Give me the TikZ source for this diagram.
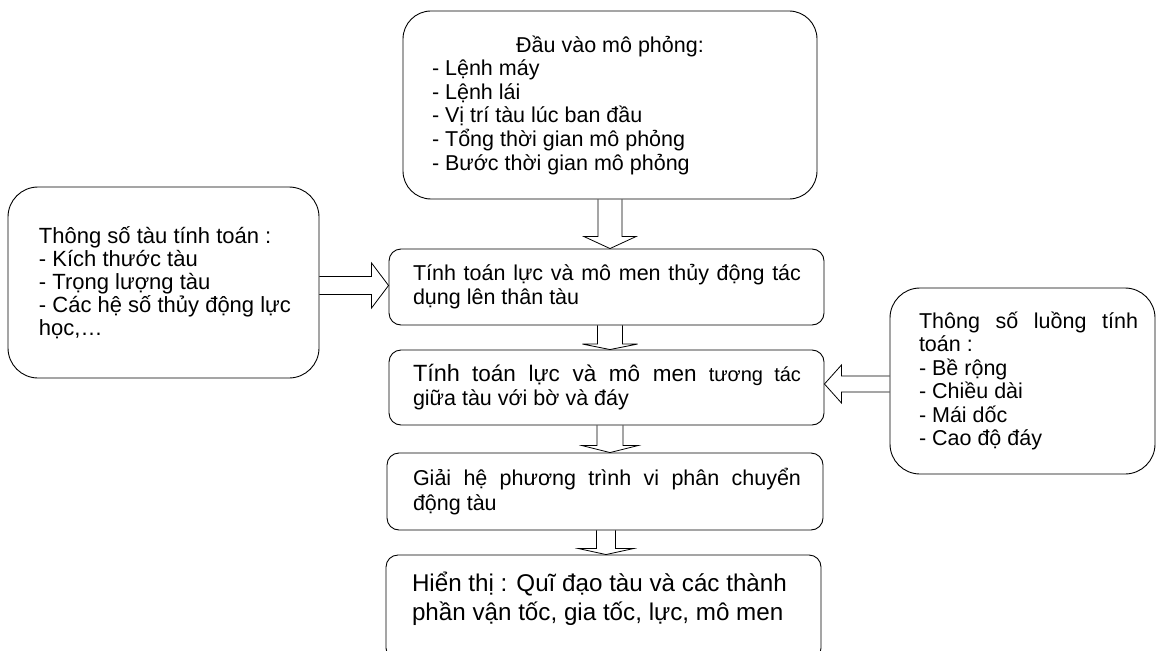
\documentclass[tikz,border=0pt]{standalone}
\usepackage{fontspec}
\setmainfont{Liberation Sans}
\usetikzlibrary{calc}
\tikzset{
  box/.style={draw=black, line width=0.9pt, rounded corners=#1, inner sep=0pt, fill=white},
  blk/.style={draw=black, line width=0.8pt, line join=miter},
}
% #1 box width, #2 left offset, #3 text width, #4 content
\newcommand\boxtext[4]{\makebox[#1pt][l]{\hspace*{#2pt}\parbox{#3pt}{\raggedright #4}}}
\newcommand\fs[2]{\fontsize{#1pt}{#2pt}\selectfont}
% down block arrow: from, to, x coordinate, shaft half, head half, head length
\newcommand\blockdown[6]{%
  \draw[blk] ($(#1.south -| #3)+(-#4,0)$) -- ($(#2.north -| #3)+(-#4,-#6)$) --
    ($(#2.north -| #3)+(-#5,-#6)$) -- (#2.north -| #3) --
    ($(#2.north -| #3)+(#5,-#6)$) -- ($(#2.north -| #3)+(#4,-#6)$) --
    ($(#1.south -| #3)+(#4,0)$);}
% right-pointing block arrow from #1.east to #2.west at y of #3
\newcommand\blockright[6]{%
  \draw[blk] ($(#1.east |- #3)+(0,-#4)$) -- ($(#2.west |- #3)+(-#6,-#4)$) --
    ($(#2.west |- #3)+(-#6,-#5)$) -- (#2.west |- #3) --
    ($(#2.west |- #3)+(-#6,#5)$) -- ($(#2.west |- #3)+(-#6,#4)$) --
    ($(#1.east |- #3)+(0,#4)$);}
% left-pointing block arrow from #1.west to #2.east at y of #3
\newcommand\blockleft[6]{%
  \draw[blk] ($(#1.west |- #3)+(0,-#4)$) -- ($(#2.east |- #3)+(#6,-#4)$) --
    ($(#2.east |- #3)+(#6,-#5)$) -- (#2.east |- #3) --
    ($(#2.east |- #3)+(#6,#5)$) -- ($(#2.east |- #3)+(#6,#4)$) --
    ($(#1.west |- #3)+(0,#4)$);}
\begin{document}
\begin{tikzpicture}[x=1pt, y=-1pt]
\useasboundingbox (0,0) rectangle (1158,650);
\clip (0,0) rectangle (1158,650);

\node[box=28pt, minimum width=414pt, minimum height=188pt] (input) at (610,105)
  {\boxtext{414}{29}{356}{\fs{21.5}{23.6}\makebox[356pt]{Đầu vào mô phỏng:}\\
   - Lệnh máy\\ - Lệnh lái\\ - Vị trí tàu lúc ban đầu\\ - Tổng thời gian mô phỏng\\ - Bước thời gian mô phỏng}};

\node[box=30pt, minimum width=311pt, minimum height=191pt] (ship) at (163.5,282.5)
  {\boxtext{311}{31}{280}{\fs{22}{23}Thông số tàu tính toán :\\ - Kích thước tàu\\ - Trọng lượng tàu\\
   - Các hệ số thủy động lực\\ học,…}};

\node[box=12pt, minimum width=435pt, minimum height=76pt] (hydro) at (606.5,287)
  {\boxtext{435}{24}{395}{\fs{21.5}{24}\makebox[388pt][s]{Tính toán lực và mô men thủy động tác}\\ dụng lên thân tàu}};

\node[box=12pt, minimum width=435pt, minimum height=75pt] (bank) at (606.5,387.5)
  {\boxtext{435}{24}{395}{\fs{21.5}{24}\makebox[388pt][s]{{\fs{23.5}{24}Tính} {\fs{22.5}{24}toán lực và mô men} {\fs{20}{24}tương tác}}\\ giữa tàu với bờ và đáy}};

\node[box=30pt, minimum width=265pt, minimum height=186pt] (channel) at (1022.5,381)
  {\boxtext{265}{29}{230}{\fs{21.5}{23.4}\makebox[219pt][s]{Thông số luồng tính}\\ toán :\\ - Bề rộng\\ - Chiều dài\\ - Mái dốc\\ - Cao độ đáy}};

\node[box=12pt, minimum width=436pt, minimum height=77pt] (solve) at (605,491.5)
  {\boxtext{436}{26}{395}{\fs{21.5}{25}\makebox[388pt][s]{Giải hệ phương trình vi phân chuyển}\\ động tàu}};

\node[box=12pt, minimum width=435pt, minimum height=105pt] (show) at (603.5,607.5)
  {\boxtext{435}{26}{405}{\fs{24.2}{29}Hiển thị : Quĩ đạo tàu và các thành\\ phần vận tốc, gia tốc, lực, mô men\vspace{18pt}}};

\coordinate (ax) at (610,0);
\coordinate (ax4) at (606,0);
\coordinate (ay1) at (0,285.5);
\coordinate (ay2) at (0,384);

\blockdown{input}{hydro}{ax}{12}{26}{12}
\blockdown{hydro}{bank}{ax}{12.5}{27.5}{5.5}
\blockdown{bank}{solve}{ax}{13}{28}{7}
\blockdown{solve}{show}{ax4}{9.5}{27.5}{6}
\blockright{ship}{hydro}{ay1}{9}{22.5}{17}
\blockleft{channel}{bank}{ay2}{8}{19}{17}
\end{tikzpicture}
\end{document}
